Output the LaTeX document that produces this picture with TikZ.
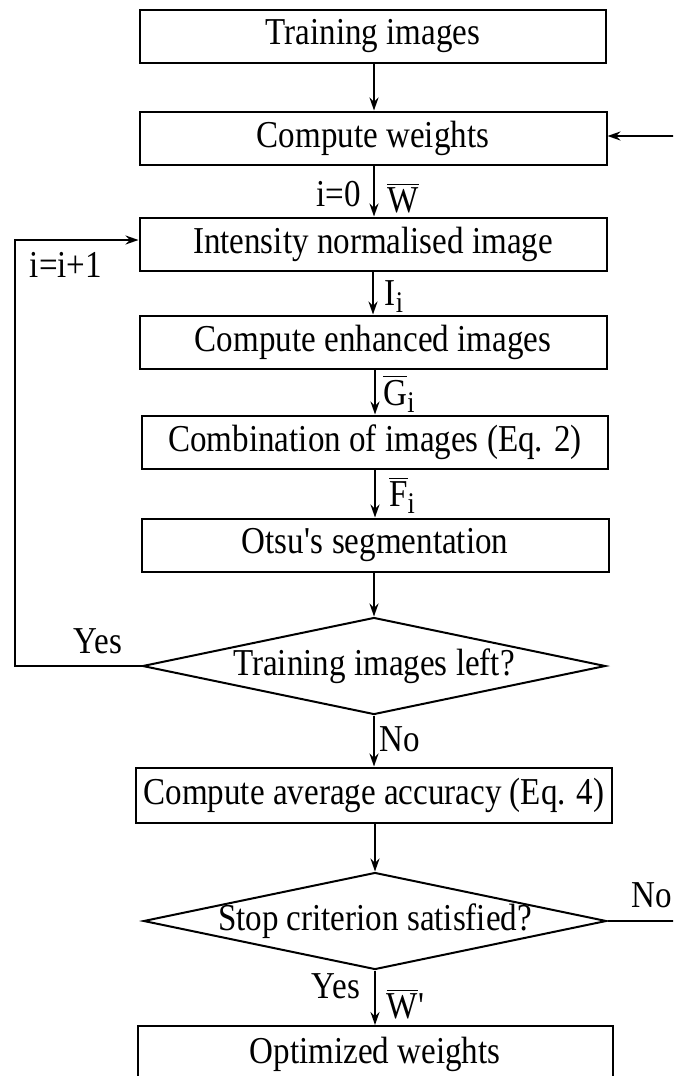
\documentclass[tikz,border=0pt]{standalone}
\usepackage{amsmath}
\usepackage{fontspec}
\setmainfont{Liberation Serif}[FakeStretch=0.87]
\usetikzlibrary{shapes.geometric,arrows.meta}
\newcommand\mysubsc[1]{\raisebox{-7pt}{\fontsize{30}{30}\selectfont #1}}
\begin{document}
\begin{tikzpicture}[x=1pt,y=-1pt,
  font=\fontsize{38}{42}\selectfont,
  line width=2pt,
  procbox/.style={draw, rectangle, minimum height=53pt, inner sep=0pt},
  decbox/.style={draw, diamond, minimum width=463pt, minimum height=97pt, inner sep=0pt},
  arr/.style={-{Stealth[length=13pt,width=9pt]}},
  lbl/.style={inner sep=0pt}]
\useasboundingbox (0,0) rectangle (673,1076);
\clip (0,0) rectangle (673,1076);
\node[procbox, minimum width=466pt] (b1) at (373,36) {Training images};
\node[procbox, minimum width=467pt] (b2) at (373,138) {Compute weights};
\node[procbox, minimum width=467pt] (b3) at (373,244) {Intensity normalised image};
\node[procbox, minimum width=467pt] (b4) at (373,342) {Compute enhanced images};
\node[procbox, minimum width=466pt] (b5) at (375,442) {Combination of images (Eq. 2)};
\node[procbox, minimum width=467pt] (b6) at (375,545) {Otsu\textquotesingle s segmentation};
\node[decbox, label={[inner sep=0pt]center:Training images left?}] (d1) at (374,666) {};
\node[procbox, minimum width=476pt, minimum height=55pt] (b7) at (374,795) {Compute average accuracy (Eq. 4)};
\node[decbox, label={[inner sep=0pt]center:Stop criterion satisfied?}] (d2) at (375,921) {};
\node[procbox, minimum width=475pt, minimum height=56pt] (b8) at (375,1054) {Optimized weights};

\coordinate (inR) at (675,136);
\coordinate (outR) at (675,921);
\coordinate (lpB) at (15,666);
\coordinate (lpT) at (15,240);

\draw[arr] (b1.south -| 374,0) -- (b2.north -| 374,0);
\draw[arr] (b2.south -| 374,0) -- (b3.north -| 374,0);
\draw[arr] (b3.south -| 373,0) -- (b4.north -| 373,0);
\draw[arr] (b4.south -| 375,0) -- (b5.north -| 375,0);
\draw[arr] (b5.south -| 375,0) -- (b6.north -| 375,0);
\draw[arr] (b6.south -| 374,0) -- (d1.north);
\draw[arr] (d1.south) -- (b7.north -| 374,0);
\draw[arr] (b7.south -| 375,0) -- (d2.north);
\draw[arr] (d2.south) -- (b8.north -| 375,0);
\draw[arr] (inR) -- (b2.east |- inR);
\draw (d2.east) -- (outR);
\draw[arr] (d1.west) -- (lpB) -- (lpT) -- (b3.west |- lpT);

\node[lbl, anchor=east] (l1) at (362,194) {i=0};
\node[lbl] (l2) at (403,198) {$\overline{\text{W}}$};
\node[lbl] (l3) at (66,265) {i=i+1};
\node[lbl] (l4) at (394,297) {I\mysubsc{i}};
\node[lbl] (l5) at (399,394) {$\overline{\text{G}}$\mysubsc{i}};
\node[lbl] (l6) at (402,495) {$\overline{\text{F}}$\mysubsc{i}};
\node[lbl] (l7) at (98,641) {Yes};
\node[lbl] (l8) at (400,739) {No};
\node[lbl, anchor=east] (l9) at (673,895) {No};
\node[lbl] (l10) at (336,986) {Yes};
\node[lbl] (l11) at (406,1004) {$\overline{\text{W}}$\textquotesingle};
\end{tikzpicture}
\end{document}
